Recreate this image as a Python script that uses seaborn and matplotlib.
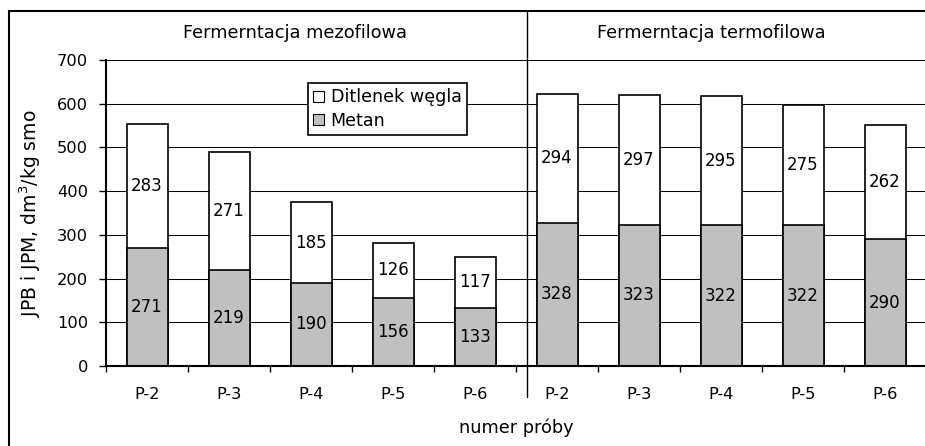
import numpy as np
import pandas as pd
import matplotlib
matplotlib.use("Agg")
import matplotlib.pyplot as plt
from matplotlib.patches import Patch, Rectangle
from matplotlib.lines import Line2D
import seaborn as sns

# values
samples = ["P-2", "P-3", "P-4", "P-5", "P-6"]
metan_mezo = [271, 219, 190, 156, 133]
co2_mezo = [283, 271, 185, 126, 117]
metan_termo = [328, 323, 322, 322, 290]
co2_termo = [294, 297, 295, 275, 262]
groups = ["Fermerntacja mezofilowa", "Fermerntacja termofilowa"]
series_names = ["Ditlenek węgla", "Metan"]
y_ticks = [0, 100, 200, 300, 400, 500, 600, 700]

GREY = "#c0c0c0"
W, H = 925, 446


def build_frame():
    metan = metan_mezo + metan_termo
    co2 = co2_mezo + co2_termo
    df = pd.DataFrame({
        "pos": list(range(len(metan))),
        "label": samples + samples,
        "metan": metan,
        "co2": co2,
    })
    df["total"] = df["metan"] + df["co2"]
    return df


def main():
    sns.set_style("white")
    # the reference uses a wide sans face, DejaVu matches its proportions best
    plt.rcParams["font.family"] = ["DejaVu Sans"]
    plt.rcParams["mathtext.fontset"] = "dejavusans"
    for key in ["text.color", "axes.labelcolor", "xtick.color", "ytick.color"]:
        plt.rcParams[key] = "black"

    df = build_frame()

    fig = plt.figure(figsize=(W / 100, H / 100), dpi=100)
    ax = fig.add_axes([106 / W, (H - 366) / H, 820 / W, 306 / H])

    # stacked bars: full height in white, methane part in grey on top
    sns.barplot(data=df, x="pos", y="total", color="white", saturation=1,
                edgecolor="black", linewidth=1.2, width=0.5, errorbar=None, ax=ax)
    sns.barplot(data=df, x="pos", y="metan", color=GREY, saturation=1,
                edgecolor="black", linewidth=1.2, width=0.5, errorbar=None, ax=ax)

    for i, row in df.iterrows():
        ax.text(i, row["metan"] / 2, str(row["metan"]), ha="center", va="center",
                fontsize=12)
        ax.text(i, row["metan"] + row["co2"] / 2, str(row["co2"]), ha="center",
                va="center", fontsize=12)

    ax.set_xlim(-0.5, len(df) - 0.5)
    ax.set_ylim(0, 700)
    ax.set_yticks(y_ticks)
    ax.set_yticklabels([str(v) for v in y_ticks], fontsize=11.7)
    ax.set_xticks(df["pos"])
    ax.set_xticklabels(df["label"], fontsize=11.7)
    ax.set_xticks(np.arange(-0.5, len(df), 1), minor=True)
    ax.tick_params(axis="x", which="major", length=0, pad=15, bottom=True)
    ax.tick_params(axis="x", which="minor", length=4, width=1,
                   direction="out", bottom=True)
    ax.tick_params(axis="y", which="major", length=5, width=1, pad=8,
                   direction="out", left=True)

    ax.set_axisbelow(True)
    ax.yaxis.grid(True, color="black", linewidth=0.75)
    ax.xaxis.grid(False)
    for side in ["top", "right"]:
        ax.spines[side].set_visible(False)
    for side in ["left", "bottom"]:
        ax.spines[side].set_color("black")
        ax.spines[side].set_linewidth(1.5)

    ax.set_xlabel("numer próby", fontsize=12.8, va="center")
    ax.xaxis.set_label_coords(0.5, -62 / 306)
    ax.set_ylabel(r"JPB i JPM, dm$^{\mathregular{3}}$/kg smo", fontsize=13.5,
                  va="center")
    ax.yaxis.set_label_coords(-76 / 820, 0.5)

    handles = [Patch(facecolor="white", edgecolor="black", linewidth=0.8),
               Patch(facecolor=GREY, edgecolor="black", linewidth=0.8)]
    leg = ax.legend(handles, series_names, loc="upper left",
                    bbox_to_anchor=(308 / W, 1 - 83 / H), bbox_transform=fig.transFigure,
                    frameon=True, fancybox=False, edgecolor="black", framealpha=1,
                    borderpad=0.3, handlelength=0.6, handleheight=0.6,
                    handletextpad=0.4, labelspacing=0.3, borderaxespad=0,
                    fontsize=12.6)
    leg.get_frame().set_linewidth(1.2)

    # group headers, separator and outer frame
    fig.text(295 / W, 1 - 33 / H, groups[0], ha="center", va="center", fontsize=12.8)
    fig.text(711 / W, 1 - 33 / H, groups[1], ha="center", va="center", fontsize=12.8)
    fig.add_artist(Line2D([527 / W, 527 / W], [(H - 397) / H, 1 - 11 / H],
                          transform=fig.transFigure, color="black", linewidth=1))
    fig.add_artist(Rectangle((9 / W, -0.1), 1.2, 1 - 11 / H + 0.1,
                             transform=fig.transFigure, fill=False,
                             edgecolor="black", linewidth=1.5))

    fig.savefig("out.png", dpi=100)
    plt.close(fig)


if __name__ == "__main__":
    main()
